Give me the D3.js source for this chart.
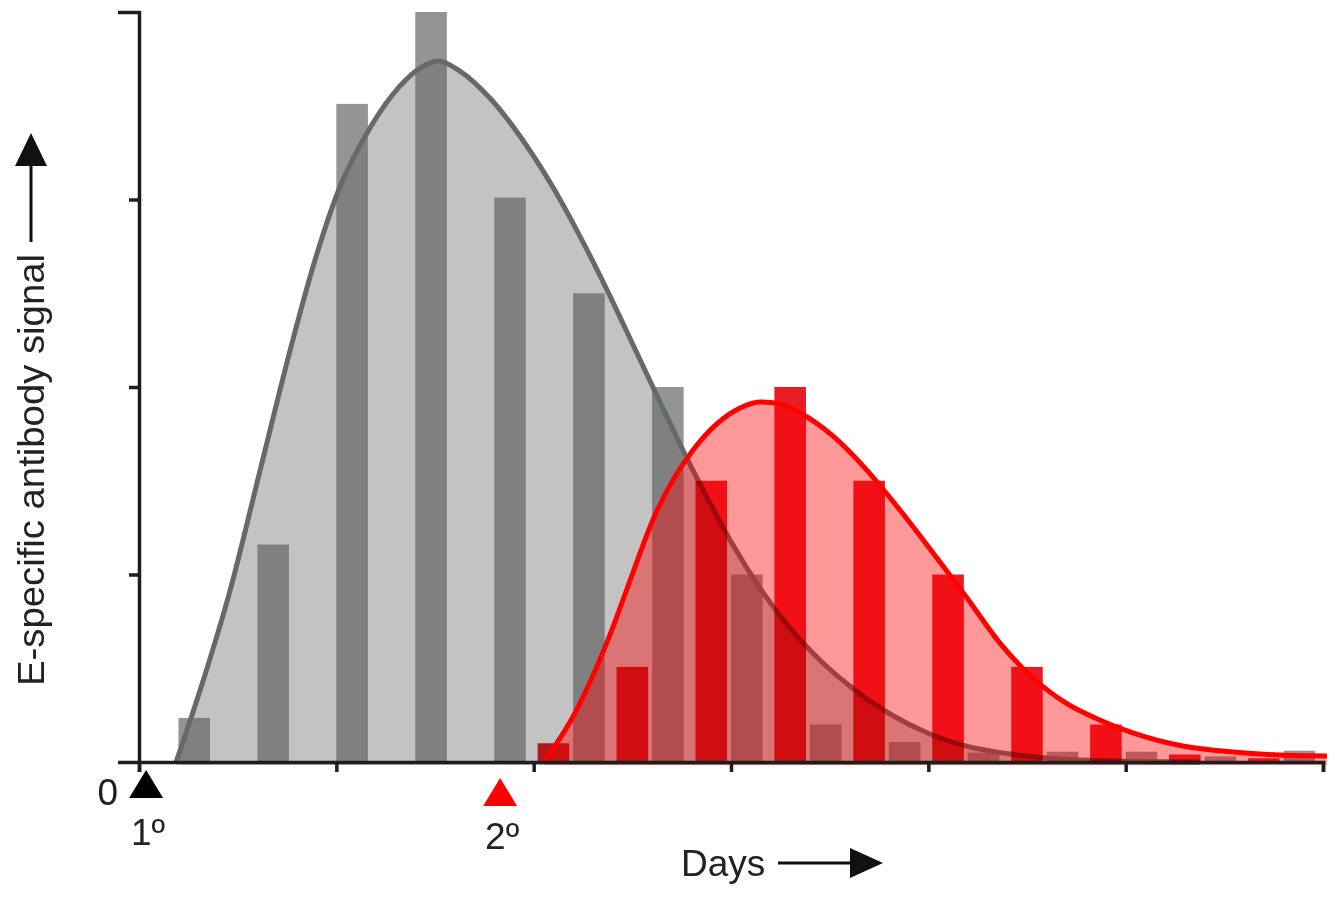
<!DOCTYPE html>
<html>
<head>
<meta charset="utf-8">
<script src="https://cdn.jsdelivr.net/npm/d3@7/dist/d3.min.js"></script>
<style>
  html, body { margin: 0; padding: 0; background: #fff; }
  svg { display: block; font-family: "Liberation Sans", Arial, sans-serif; }
</style>
</head>
<body>
<svg id="chart" width="1340" height="898"></svg>
<script>
// ---------------- data ----------------
const primaryBarDays   = [1, 3, 5, 7, 9, 11, 13, 15, 17, 19, 21, 23, 25, 27, 29];
const primaryBarValues = [0.235, 1.16, 3.51, 4.0, 3.01, 2.50, 2.0, 1.0, 0.2, 0.107, 0.05, 0.055, 0.055, 0.03, 0.06];

const secondaryBarDays   = [10.1, 12.1, 14.1, 16.1, 18.1, 20.1, 22.1, 24.1, 26.1, 28.1];
const secondaryBarValues = [0.10, 0.507, 1.5, 2.0, 1.5, 1.0, 0.507, 0.2, 0.04, 0.02];

const primaryCurveDays   = [0.94, 1.55, 2.31, 3.07, 3.83, 4.46, 5.04, 5.85, 6.61, 7.12, 7.58, 8.13, 8.89, 9.65, 10.41, 11.17, 11.86, 12.52, 13.20, 13.88, 14.47, 15.05, 15.73, 16.49, 17.25, 18.01, 19.03, 20.04, 21.05, 22.07, 23.33, 24.85, 26.88];
const primaryCurveValues = [0, 0.384, 0.917, 1.557, 2.197, 2.677, 3.040, 3.381, 3.605, 3.701, 3.739, 3.685, 3.541, 3.339, 3.093, 2.805, 2.517, 2.224, 1.920, 1.621, 1.381, 1.157, 0.928, 0.715, 0.544, 0.405, 0.256, 0.149, 0.080, 0.043, 0.016, 0.005, 0];

const secondaryCurveDays   = [10.29, 10.92, 11.43, 11.93, 12.52, 13.02, 13.53, 14.04, 14.64, 15.23, 15.73, 16.24, 16.75, 17.58, 18.44, 19.28, 20.12, 20.98, 21.81, 22.65, 23.48, 24.34, 25.18, 26.45, 27.72, 28.91, 30.1];
const secondaryCurveValues = [0.011, 0.213, 0.427, 0.677, 1.013, 1.291, 1.504, 1.664, 1.803, 1.888, 1.920, 1.909, 1.861, 1.739, 1.557, 1.344, 1.115, 0.875, 0.635, 0.448, 0.315, 0.224, 0.155, 0.085, 0.053, 0.037, 0.032];

const xTickValues = [0, 5, 10, 15, 20, 25, 30];
const yTickValues = [1, 2, 3];
const barWidthDays = 0.8;

const markerLabels = ["1º", "2º"];
const markerDays   = [0.18, 9.15];
const zeroLabel = "0";
const xTitle = "Days";
const yTitle = "E-specific antibody signal";

// ---------------- scales ----------------
const svg = d3.select("#chart");
const x = d3.scaleLinear().domain([0, 30]).range([139, 1323]);
const y = d3.scaleLinear().domain([0, 4]).range([762, 12]);

const primaryCurve = primaryCurveDays.map((d, i) => ({ d, v: primaryCurveValues[i] }));
const secondaryCurve = secondaryCurveDays.map((d, i) => ({ d, v: secondaryCurveValues[i] }));

const area = d3.area().x(p => x(p.d)).y0(y(0) + 3).y1(p => y(p.v)).curve(d3.curveMonotoneX);
const line = d3.line().x(p => x(p.d)).y(p => y(p.v)).curve(d3.curveMonotoneX);

// primary (grey) bars
svg.append("g").selectAll("rect").data(primaryBarDays).join("rect")
  .attr("x", d => x(d))
  .attr("width", d => x(d + barWidthDays) - x(d))
  .attr("y", (d, i) => y(primaryBarValues[i]))
  .attr("height", (d, i) => y(0) - y(primaryBarValues[i]))
  .attr("fill", "#939495");

// grey area + curve
svg.append("path").datum(primaryCurve).attr("d", area).attr("fill", "rgba(97,97,97,0.38)");
svg.append("path").datum(primaryCurve).attr("d", line)
  .attr("fill", "none").attr("stroke", "#686868").attr("stroke-width", 5);

// secondary (red) bars
svg.append("g").selectAll("rect").data(secondaryBarDays).join("rect")
  .attr("x", d => x(d))
  .attr("width", d => x(d + barWidthDays) - x(d))
  .attr("y", (d, i) => y(secondaryBarValues[i]))
  .attr("height", (d, i) => y(0) - y(secondaryBarValues[i]))
  .attr("fill", "#e81c24")
  .style("mix-blend-mode", "multiply");

// red area + curve
svg.append("path").datum(secondaryCurve).attr("d", area).attr("fill", "rgba(255,0,0,0.4)");
svg.append("path").datum(secondaryCurve).attr("d", line)
  .attr("fill", "none").attr("stroke", "#ff0000").attr("stroke-width", 5);

// axes
const yAxis = svg.append("g").attr("transform", `translate(${x(0)},0)`)
  .call(d3.axisLeft(y).tickValues(yTickValues).tickSizeInner(10).tickSizeOuter(21).tickFormat(""));
const xAxis = svg.append("g").attr("transform", `translate(0,${y(0)})`)
  .call(d3.axisBottom(x).tickValues(xTickValues).tickSizeInner(10).tickSizeOuter(10).tickFormat(""));
[yAxis, xAxis].forEach(g => {
  g.selectAll("path, line").attr("stroke", "#1e1e1e").attr("stroke-width", 3.5);
});

// markers
const markerColors = ["#000000", "#ff0000"];
const markerTop = [770, 778];
markerDays.forEach((d, i) => {
  const cx = x(d), t = markerTop[i];
  svg.append("path")
    .attr("d", `M${cx - 17},${t + 28}L${cx},${t}L${cx + 17},${t + 28}Z`)
    .attr("fill", markerColors[i]);
  svg.append("text").attr("x", cx + 2).attr("y", t + 75 - (i ? 4 : 0))
    .attr("text-anchor", "middle").attr("font-size", 37).attr("fill", "#222")
    .text(markerLabels[i]);
});
svg.append("text").attr("x", 118).attr("y", 805).attr("text-anchor", "end")
  .attr("font-size", 37).attr("fill", "#222").text(zeroLabel);

// x title with arrow
svg.append("text").attr("x", 681).attr("y", 876).attr("font-size", 37).attr("fill", "#222").text(xTitle);
svg.append("line").attr("x1", 778).attr("x2", 852).attr("y1", 863).attr("y2", 863)
  .attr("stroke", "#111").attr("stroke-width", 3);
svg.append("path").attr("d", "M850,848L883,863L850,878Z").attr("fill", "#111");

// y title with arrow
svg.append("text").attr("transform", "translate(44,686) rotate(-90)")
  .attr("font-size", 37).attr("fill", "#222")
  .attr("textLength", 432).attr("lengthAdjust", "spacingAndGlyphs")
  .text(yTitle);
svg.append("line").attr("x1", 31).attr("x2", 31).attr("y1", 242).attr("y2", 160)
  .attr("stroke", "#111").attr("stroke-width", 3);
svg.append("path").attr("d", "M15,166L31,133L47,166Z").attr("fill", "#111");
</script>
</body>
</html>
